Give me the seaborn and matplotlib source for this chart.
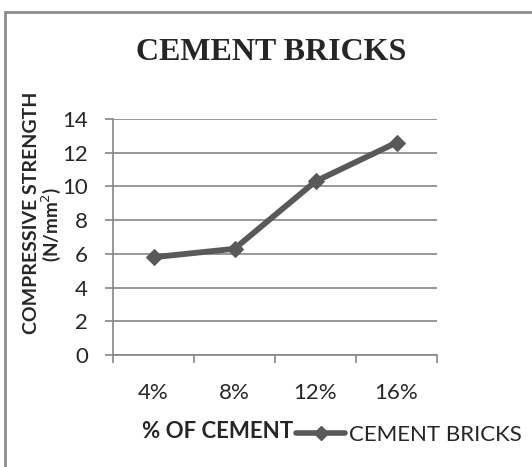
import matplotlib
matplotlib.use("Agg")
import matplotlib.pyplot as plt
import seaborn as sns
import pandas as pd
from matplotlib.lines import Line2D
from matplotlib.patches import Rectangle

categories = ["4%", "8%", "12%", "16%"]
strength = [5.8, 6.3, 10.3, 12.6]
series_name = "CEMENT BRICKS"
y_ticks = [0, 2, 4, 6, 8, 10, 12, 14]

sns.set_theme(style="white")
plt.rcParams['font.family'] = ['Lato', 'DejaVu Sans']

W, H = 532, 467
fig = plt.figure(figsize=(W / 100, H / 100), dpi=100)
ax = fig.add_axes([113 / W, 1 - 355 / H, (437 - 113) / W, (355 - 119) / H])

df = pd.DataFrame({"pct": categories, "val": strength})
line_color = "#595959"
sns.lineplot(data=df, x="pct", y="val", ax=ax, sort=False, color=line_color,
             linewidth=4.2, marker="D", markersize=8, markeredgecolor=line_color,
             markerfacecolor=line_color, legend=False)

ax.set_xlim(-0.5, len(categories) - 0.5)
ax.set_ylim(0, 14)
ax.set_yticks(y_ticks)
ax.set_yticklabels([str(t) for t in y_ticks], fontsize=16)
ax.set_xticks([i - 0.5 for i in range(len(categories) + 1)], minor=False)
ax.set_xticklabels([])
ax.set_xticks(range(len(categories)), minor=True)
ax.set_xticklabels(categories, minor=True, fontsize=16)
ax.tick_params(axis="x", which="minor", length=0, pad=20)
ax.tick_params(axis="x", which="major", direction="out", length=6, width=1.2, color="#868686", bottom=True)
ax.tick_params(axis="y", direction="out", length=6, width=1.2, color="#868686", left=True, pad=12)

ax.grid(axis="y", color="#868686", linewidth=1.2)
ax.grid(axis="x", visible=False)
for s in ["top", "right"]:
    ax.spines[s].set_visible(False)
for s in ["left", "bottom"]:
    ax.spines[s].set_color("#868686")
    ax.spines[s].set_linewidth(1.2)
ax.set_xlabel("")
ax.set_ylabel("")

fig.text(271 / W, 1 - 52 / H, "CEMENT BRICKS", family=["Liberation Serif"], fontweight="bold",
         fontsize=23, ha="center", va="center")
fig.text(32 / W, 1 - 213 / H, "COMPRESSIVE STRENGTH", fontweight="bold",
         fontsize=14, ha="center", va="center", rotation=90)
fig.text(51.5 / W, 1 - 224 / H, "(N/mm$^{2}$)", fontweight="bold",
         fontsize=13.5, ha="center", va="center", rotation=90)
fig.text(218 / W, 1 - 432 / H, "% OF CEMENT", fontweight="bold", fontsize=16,
         ha="center", va="center")

handle = Line2D([], [], color=line_color, linewidth=4, marker="D", markersize=7)
fig.legend([handle], [series_name], loc="center left", bbox_to_anchor=(285 / W, 1 - 435 / H),
           frameon=False, fontsize=16, handlelength=2.2, handletextpad=0.2, borderpad=0)

fig.patches.append(Rectangle((5 / W, -0.1), 1.2, 1.1 - 12 / H, transform=fig.transFigure,
                             fill=False, edgecolor="#8c8c8c", linewidth=2))

fig.savefig("out.png", dpi=100)
